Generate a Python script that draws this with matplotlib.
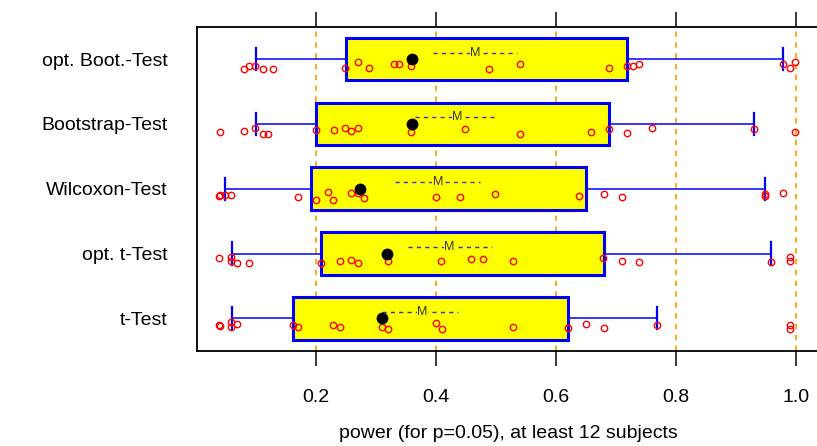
import matplotlib
matplotlib.use("Agg")
import matplotlib.pyplot as plt

plt.rcParams["font.family"] = ["Liberation Sans", "DejaVu Sans"]

# test names, bottom to top
tests = ["t-Test", "opt. t-Test", "Wilcoxon-Test", "Bootstrap-Test", "opt. Boot.-Test"]

# box statistics per test (same order as tests)
q1 = [0.161, 0.209, 0.192, 0.200, 0.250]
q3 = [0.620, 0.680, 0.650, 0.689, 0.719]
whisk_lo = [0.060, 0.060, 0.049, 0.100, 0.100]
whisk_hi = [0.769, 0.959, 0.949, 0.930, 0.979]
means = [0.310, 0.319, 0.274, 0.360, 0.360]

# "M" marker band per test: left end, centre, right end
m_lo = [0.310, 0.353, 0.332, 0.365, 0.395]
m_mid = [0.377, 0.422, 0.403, 0.435, 0.466]
m_hi = [0.437, 0.493, 0.473, 0.502, 0.535]

# individual power values and their vertical jitter (below the row centre)
pts_t = [0.039, 0.040, 0.059, 0.059, 0.069, 0.161, 0.170, 0.229, 0.240, 0.310,
         0.320, 0.400, 0.410, 0.529, 0.620, 0.650, 0.680, 0.769, 0.990, 0.990]
jit_t = [0.10, 0.12, 0.06, 0.14, 0.09, 0.10, 0.13, 0.10, 0.14, 0.13,
         0.16, 0.07, 0.16, 0.13, 0.15, 0.09, 0.15, 0.11, 0.10, 0.16]

pts_optt = [0.039, 0.059, 0.059, 0.069, 0.089, 0.209, 0.240, 0.259, 0.270, 0.320,
            0.409, 0.459, 0.479, 0.529, 0.679, 0.710, 0.739, 0.959, 0.990, 0.990]
jit_optt = [0.07, 0.06, 0.12, 0.15, 0.15, 0.15, 0.11, 0.10, 0.15, 0.12,
            0.11, 0.08, 0.08, 0.12, 0.07, 0.11, 0.13, 0.13, 0.06, 0.11]

pts_wil = [0.039, 0.040, 0.049, 0.059, 0.170, 0.200, 0.220, 0.229, 0.259, 0.270,
           0.280, 0.400, 0.440, 0.499, 0.639, 0.680, 0.710, 0.949, 0.949, 0.979]
jit_wil = [0.12, 0.09, 0.09, 0.09, 0.13, 0.17, 0.05, 0.17, 0.07, 0.07,
           0.15, 0.13, 0.13, 0.08, 0.11, 0.08, 0.13, 0.08, 0.11, 0.07]

pts_boot = [0.040, 0.080, 0.099, 0.111, 0.120, 0.200, 0.230, 0.249, 0.259, 0.270,
            0.359, 0.449, 0.540, 0.659, 0.689, 0.719, 0.760, 0.930, 0.999]
jit_boot = [0.13, 0.11, 0.07, 0.15, 0.15, 0.09, 0.09, 0.07, 0.11, 0.07,
            0.13, 0.08, 0.15, 0.12, 0.08, 0.14, 0.07, 0.08, 0.13]

pts_optb = [0.080, 0.089, 0.098, 0.111, 0.129, 0.249, 0.270, 0.289, 0.330, 0.339,
            0.359, 0.489, 0.540, 0.689, 0.718, 0.729, 0.739, 0.979, 0.990, 0.999]
jit_optb = [0.16, 0.11, 0.11, 0.16, 0.16, 0.13, 0.05, 0.14, 0.07, 0.08,
            0.10, 0.16, 0.07, 0.14, 0.11, 0.11, 0.08, 0.08, 0.14, 0.05]

points = [pts_t, pts_optt, pts_wil, pts_boot, pts_optb]
jitter = [jit_t, jit_optt, jit_wil, jit_boot, jit_optb]

xticks = [0.2, 0.4, 0.6, 0.8, 1.0]
xtick_labels = ["0.2", "0.4", "0.6", "0.8", "1.0"]
xlabel = "power (for p=0.05), at least 12 subjects"

W, H = 817, 446
fig = plt.figure(figsize=(W / 100, H / 100), dpi=100)
ax = fig.add_axes([197 / W, 95.3 / H, 622 / W, 324 / H])

ax.set_xlim(0.00167, 1.0383)
ax.set_ylim(0.5, 5.5)

# dashed reference lines, kept behind the boxes
for xv in xticks:
    ax.axvline(xv, color="#FFA500", ls=(0, (3, 3)), lw=1.3, zorder=0.5)

half_h = 0.33
cap_h = 0.17
for i, name in enumerate(tests):
    y = i + 1
    # whiskers
    ax.plot([whisk_lo[i], q1[i]], [y, y], color="#0000FF", lw=1.1, zorder=2)
    ax.plot([q3[i], whisk_hi[i]], [y, y], color="#0000FF", lw=1.1, zorder=2)
    ax.plot([whisk_lo[i], whisk_lo[i]], [y - cap_h, y + cap_h], color="#0000FF", lw=1.6, zorder=2)
    ax.plot([whisk_hi[i], whisk_hi[i]], [y - cap_h, y + cap_h], color="#0000FF", lw=1.6, zorder=2)
    # box
    ax.add_patch(plt.Rectangle((q1[i], y - half_h), q3[i] - q1[i], 2 * half_h,
                               facecolor="#FFFF00", edgecolor="#0000FF", lw=2.2, zorder=3))
    # M band
    ax.plot([m_lo[i], m_hi[i]], [y + 0.1, y + 0.1], color="#3333CC", lw=1.0,
            ls=(0, (3, 3)), zorder=4)
    ax.text(m_mid[i], y + 0.1, "M", ha="center", va="center", fontsize=9,
            color="#333333", zorder=5,
            bbox=dict(facecolor="#FFFF00", edgecolor="none", pad=0.2))
    # observations
    ax.plot(points[i], [y - j for j in jitter[i]], ls="none", marker="o",
            markersize=4.6, markerfacecolor="none", markeredgecolor="#FF0000",
            markeredgewidth=1.0, zorder=6)
    # mean
    ax.plot([means[i]], [y], marker="o", markersize=7.5, color="black", zorder=7)

ax.set_yticks(range(1, len(tests) + 1))
ax.set_yticklabels(tests, fontsize=14)
ax.tick_params(axis="y", length=0, pad=21)

ax.set_xticks(xticks)
ax.set_xticklabels(xtick_labels, fontsize=14)
ax.tick_params(axis="x", which="both", direction="out", length=10.5, width=1.1,
               pad=17, top=True, bottom=True)
ax.set_xlabel(xlabel, fontsize=14, labelpad=13.5)

for s in ax.spines.values():
    s.set_linewidth(1.3)
    s.set_color("black")

fig.savefig("out.png", dpi=100)
